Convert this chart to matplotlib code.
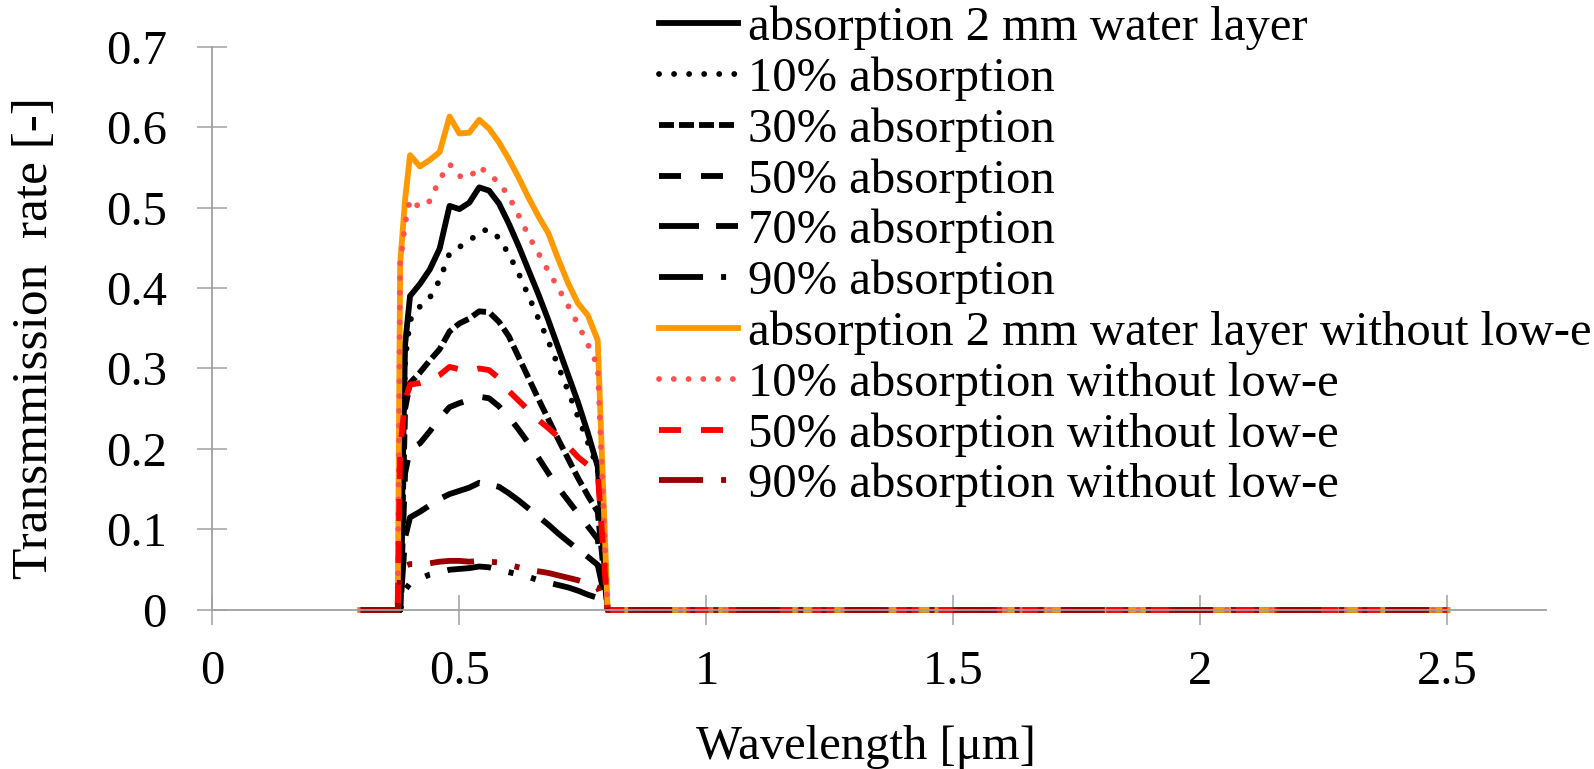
import matplotlib
matplotlib.use('Agg')
import matplotlib.pyplot as plt

plt.rcParams['font.family'] = ['Liberation Serif', 'DejaVu Serif']
plt.rcParams['font.size'] = 35

# wavelength grid [um]
wl = [0.30, 0.375, 0.38, 0.39, 0.40, 0.42, 0.44, 0.46, 0.48, 0.50, 0.52, 0.54, 0.56,
      0.58, 0.60, 0.62, 0.64, 0.66, 0.68, 0.70, 0.72, 0.74, 0.76, 0.78, 0.80, 2.50]

# transmission rates
water_layer = [0, 0, 0.0, 0.33, 0.390, 0.405, 0.423, 0.449, 0.502, 0.498, 0.506, 0.525, 0.521,
               0.505, 0.480, 0.452, 0.422, 0.392, 0.360, 0.326, 0.292, 0.258, 0.220, 0.178, 0, 0]
abs10 = [0, 0, 0.0, 0.31, 0.360, 0.377, 0.388, 0.410, 0.443, 0.451, 0.458, 0.470, 0.473,
         0.462, 0.442, 0.418, 0.390, 0.362, 0.334, 0.303, 0.272, 0.240, 0.208, 0.176, 0, 0]
abs30 = [0, 0, 0.0, 0.25, 0.282, 0.295, 0.310, 0.324, 0.346, 0.356, 0.362, 0.371, 0.370,
         0.358, 0.340, 0.314, 0.288, 0.262, 0.237, 0.212, 0.188, 0.164, 0.142, 0.122, 0, 0]
abs50 = [0, 0, 0.0, 0.17, 0.200, 0.207, 0.222, 0.238, 0.252, 0.257, 0.261, 0.265, 0.263,
         0.253, 0.240, 0.224, 0.207, 0.189, 0.170, 0.152, 0.136, 0.120, 0.104, 0.088, 0, 0]
abs70 = [0, 0, 0.0, 0.09, 0.115, 0.122, 0.130, 0.138, 0.144, 0.148, 0.152, 0.158, 0.156,
         0.153, 0.145, 0.136, 0.126, 0.116, 0.106, 0.095, 0.085, 0.075, 0.066, 0.056, 0, 0]
abs90 = [0, 0, 0.0, 0.025, 0.033, 0.039, 0.044, 0.047, 0.050, 0.051, 0.052, 0.054, 0.053,
         0.050, 0.047, 0.044, 0.041, 0.037, 0.034, 0.031, 0.028, 0.024, 0.019, 0.015, 0, 0]
water_nolowe = [0, 0, 0.43, 0.51, 0.565, 0.551, 0.559, 0.569, 0.613, 0.592, 0.593, 0.609, 0.598,
                0.581, 0.560, 0.537, 0.512, 0.489, 0.468, 0.436, 0.406, 0.381, 0.366, 0.335, 0, 0]
abs10_nolowe = [0, 0, 0.43, 0.48, 0.510, 0.500, 0.508, 0.535, 0.554, 0.539, 0.537, 0.551, 0.541,
                0.531, 0.514, 0.490, 0.465, 0.443, 0.421, 0.400, 0.378, 0.355, 0.330, 0.303, 0, 0]
abs50_nolowe = [0, 0, 0.20, 0.26, 0.280, 0.282, 0.286, 0.292, 0.302, 0.299, 0.297, 0.300, 0.298,
                0.288, 0.272, 0.260, 0.248, 0.236, 0.226, 0.215, 0.203, 0.190, 0.180, 0.170, 0, 0]
abs90_nolowe = [0, 0, 0.045, 0.055, 0.057, 0.057, 0.058, 0.060, 0.061, 0.061, 0.060, 0.061, 0.060,
                0.059, 0.056, 0.053, 0.050, 0.048, 0.046, 0.043, 0.040, 0.037, 0.033, 0.028, 0, 0]

xticks = [0, 0.5, 1, 1.5, 2, 2.5]
xticklabels = ['0', '0.5', '1', '1.5', '2', '2.5']
yticks = [0, 0.1, 0.2, 0.3, 0.4, 0.5, 0.6, 0.7]
yticklabels = ['0', '0.1', '0.2', '0.3', '0.4', '0.5', '0.6', '0.7']

fig = plt.figure(figsize=(15.94, 7.69), dpi=100)
ax = fig.add_axes([0.1333, 0.2068, 0.8366, 0.7327])

# excel-like dash patterns (in units of line width)
dot = (0, (0.01, 2.57))
sysdash = (0, (2.57, 0.86))
dash = (0, (3.77, 3.43))
lgdash = (0, (6.86, 2.92))
lgdashdotdot = (0, (7.55, 3.09, 0.86, 3.09, 0.86, 3.09))
lw = 4.2

ax.plot(wl, water_layer, color='black', lw=lw, label='absorption 2 mm water layer', clip_on=False)
ax.plot(wl, abs10, color='black', lw=lw, ls=dot, dash_capstyle='round', label='10% absorption', clip_on=False)
ax.plot(wl, abs30, color='black', lw=lw, ls=sysdash, label='30% absorption', clip_on=False)
ax.plot(wl, abs50, color='black', lw=lw, ls=dash, label='50% absorption', clip_on=False)
ax.plot(wl, abs70, color='black', lw=lw, ls=lgdash, label='70% absorption', clip_on=False)
ax.plot(wl, abs90, color='black', lw=lw, ls=lgdashdotdot, label='90% absorption', clip_on=False)
ax.plot(wl, water_nolowe, color='#ff9900', lw=lw,
        label='absorption 2 mm water layer without low-e', clip_on=False)
ax.plot(wl, abs10_nolowe, color='#ff5050', lw=lw, ls=(0, (0.01, 2.52)), dash_capstyle='round',
        label='10% absorption without low-e', clip_on=False)
ax.plot(wl, abs50_nolowe, color='#ff0000', lw=lw, ls=dash, label='50% absorption without low-e', clip_on=False)
ax.plot(wl, abs90_nolowe, color='#990000', lw=lw, ls=lgdashdotdot,
        label='90% absorption without low-e', clip_on=False)

ax.set_xlim(0, 2.7)
ax.set_ylim(0, 0.7)
ax.set_xticks(xticks)
ax.set_xticklabels(xticklabels)
ax.set_yticks(yticks)
ax.set_yticklabels(yticklabels)

for s in ['top', 'right']:
    ax.spines[s].set_visible(False)
for s in ['left', 'bottom']:
    ax.spines[s].set_color('#a0a0a0')
    ax.spines[s].set_linewidth(1.3)
ax.tick_params(direction='inout', length=21.6, width=1.1, color='#a0a0a0')
ax.tick_params(axis='x', pad=18)
ax.tick_params(axis='y', pad=22)

ax.set_xlabel('Wavelength [μm]', va='top')
ax.xaxis.set_label_coords(0.49, -0.205)
ax.set_ylabel('Transmmission  rate [-]', fontsize=37)
ax.yaxis.set_label_coords(-0.1159, 0.483)

ax.legend(loc='upper left', bbox_to_anchor=(0.4134, 0.9927), bbox_transform=fig.transFigure,
          frameon=False, borderpad=0, borderaxespad=0, handlelength=1.63, handletextpad=0.2,
          labelspacing=0.13, fontsize=35)

fig.savefig('out.png', dpi=100)
